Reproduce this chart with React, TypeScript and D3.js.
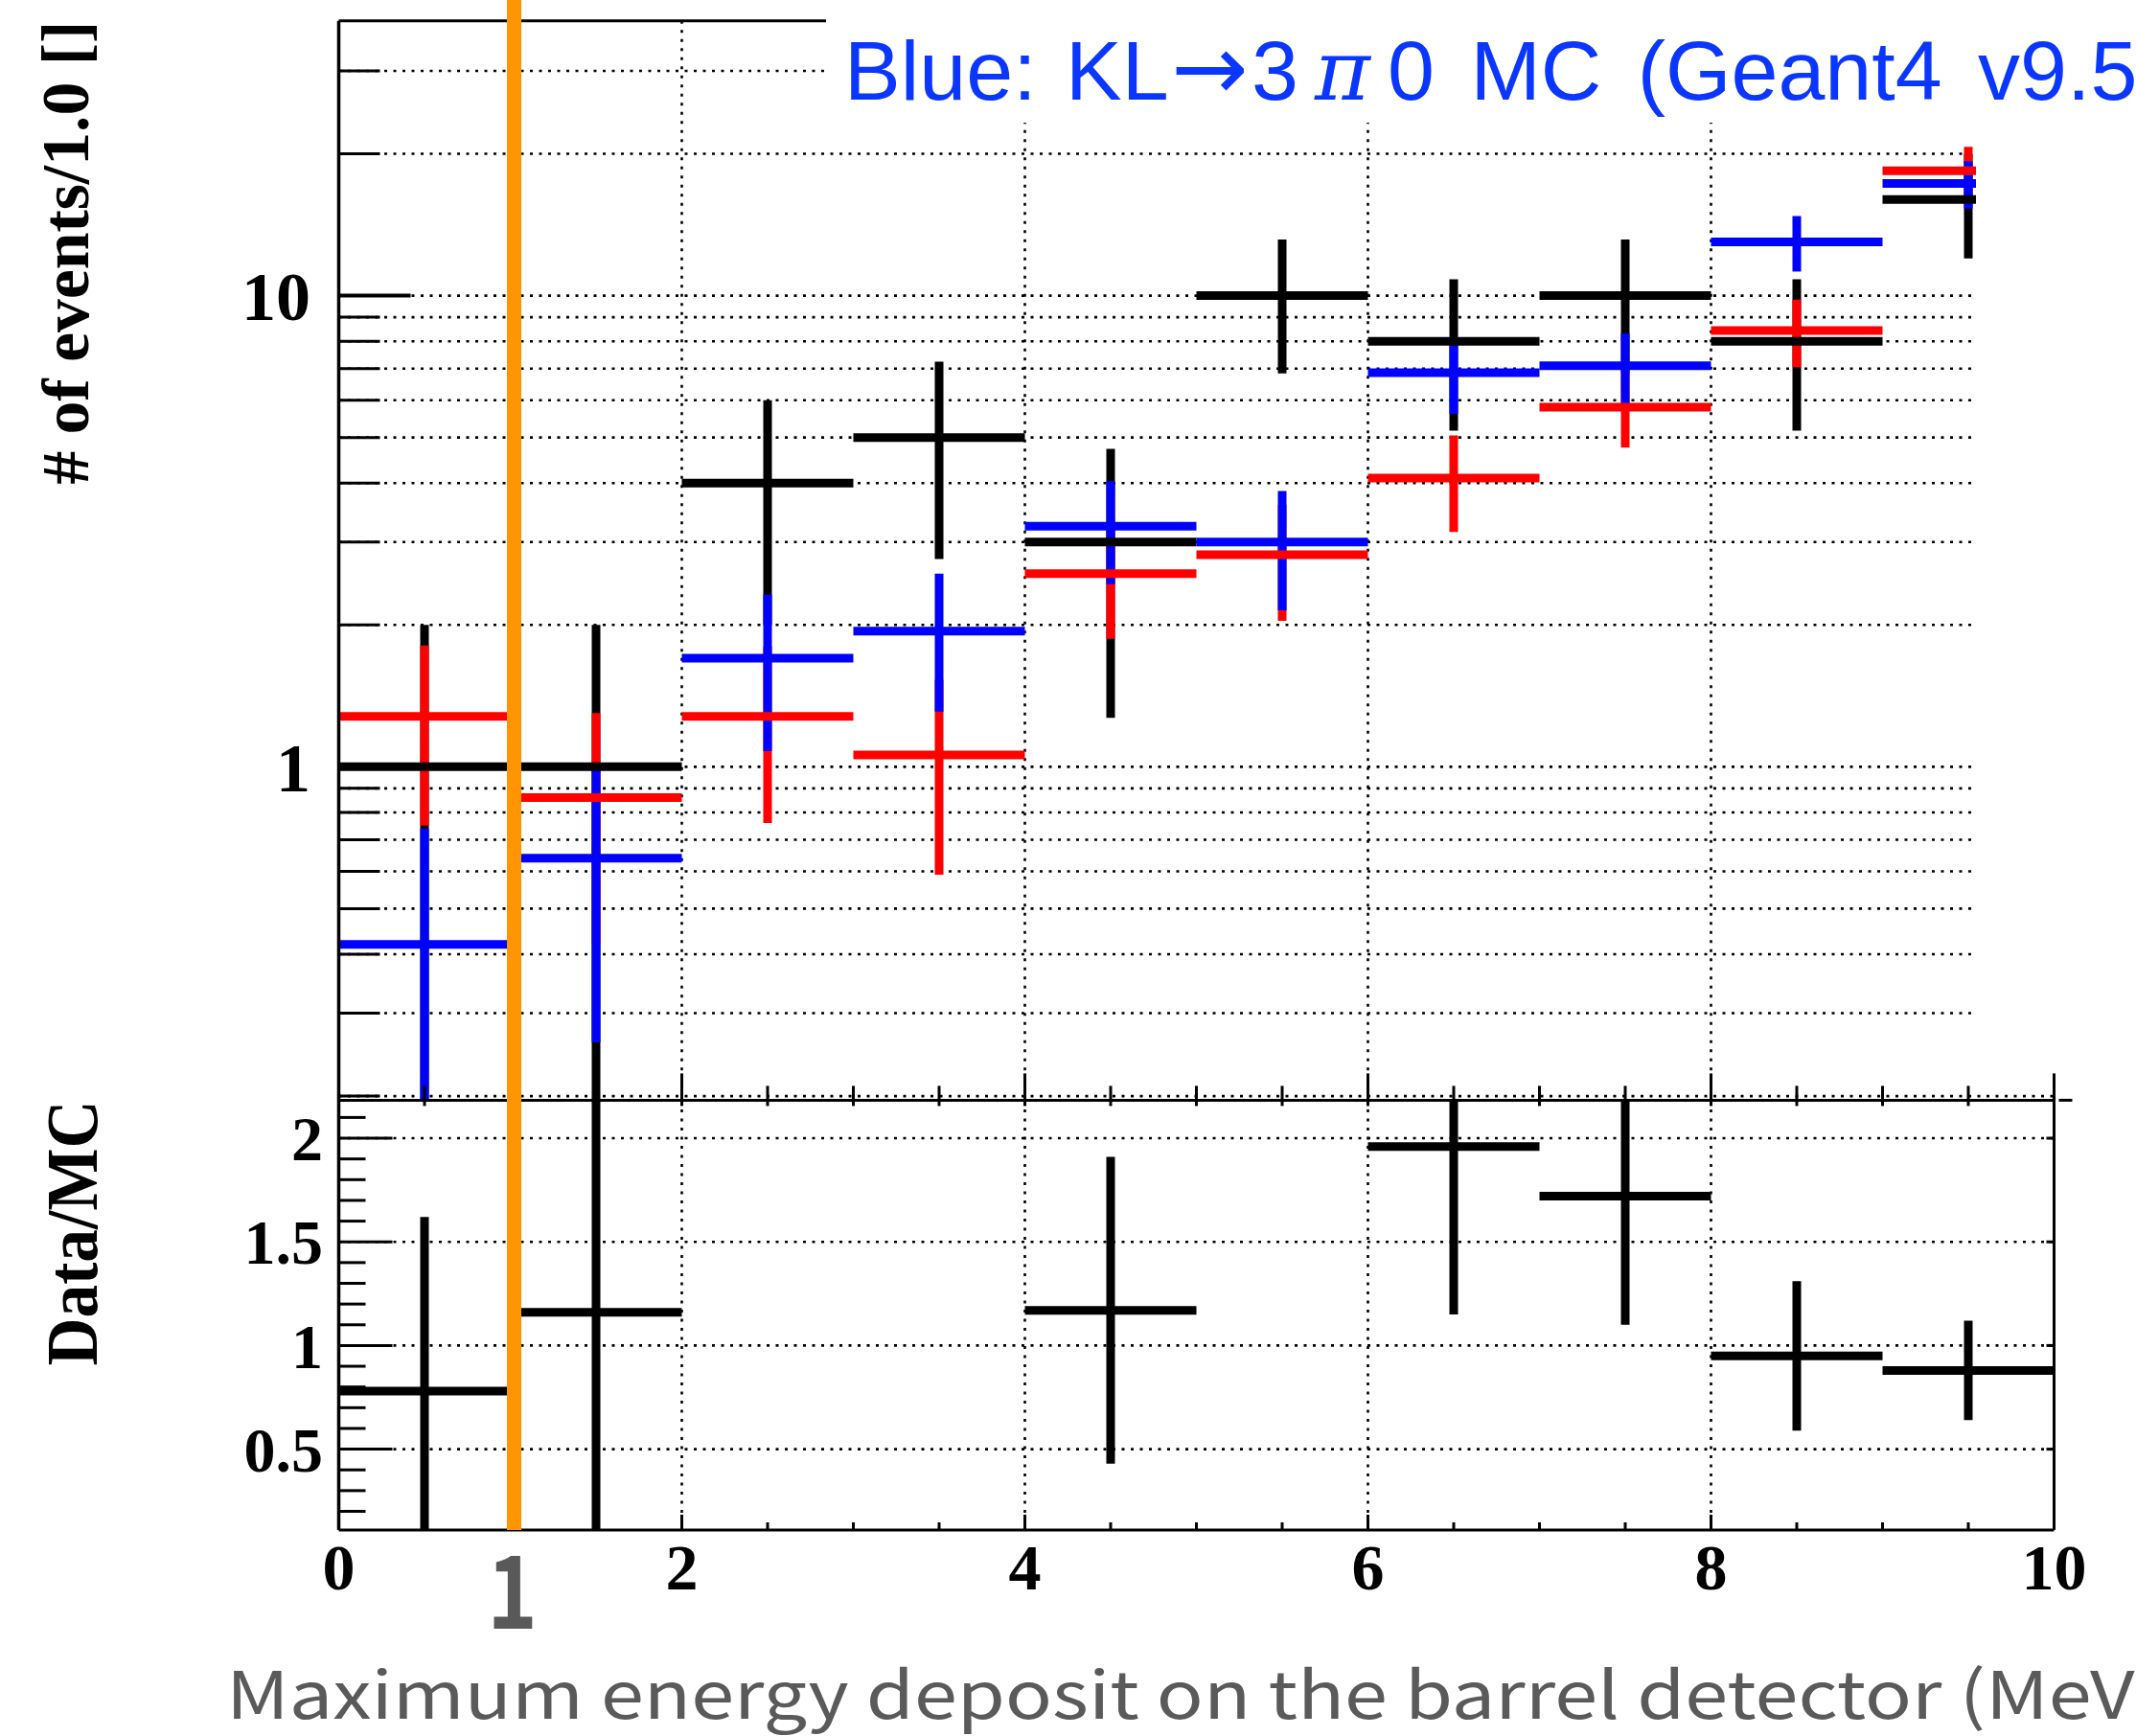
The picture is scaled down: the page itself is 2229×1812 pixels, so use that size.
import * as d3 from "d3"

const W = 2229
const H = 1812

// 1 MeV wide bins, lower edges
const binEdges = [0, 1, 2, 3, 4, 5, 6, 7, 8, 9]
const dataCounts = [1, 1, 4, 5, 3, 10, 8, 10, 8, 16]
const dataErrors = [1, 1, 2, 2.24, 1.73, 3.16, 2.83, 3.16, 2.83, 4]
const redMC = [1.28, 0.86, 1.28, 1.06, 2.57, 2.82, 4.1, 5.8, 8.43, 18.4]
const redErrors = [0.53, 0.44, 0.52, 0.47, 0.7, 0.78, 0.95, 1.04, 1.38, 2.3]
const blueMC = [0.42, 0.64, 1.7, 1.94, 3.24, 3.0, 6.86, 7.1, 13.0, 17.3]
const blueErrors = [0.32, 0.38, 0.62, 0.63, 0.8, 0.85, 1.25, 1.22, 1.75, 2.0]
// ratio points off scale are not drawn (null)
const ratio = [0.78, 1.16, null, null, 1.17, null, 1.96, 1.72, 0.95, 0.88]
const ratioErrors = [0.84, 1.2, null, null, 0.74, null, 0.81, 0.62, 0.36, 0.24]

const xLabels = [0, 2, 4, 6, 8, 10]
const xGrid = [2, 4, 6, 8]
const yTopLabels = [1, 10]
const yBotLabels = [0.5, 1, 1.5, 2]
const cutValue = 1

const xTitle = "Maximum energy deposit on the barrel detector (MeV)"

const serif = "'Liberation Serif', 'Times New Roman', serif"
const sans = "'Liberation Sans', Arial, sans-serif"
const BAR = 9
const gridStyle = { stroke: "#000", strokeWidth: 2.6, strokeDasharray: "3 6.5" }

export default function App() {
  const x = d3.scaleLinear().domain([0, 10]).range([353.5, 2143.5])
  const yTop = d3.scaleLog().domain([0.196, 38.3]).range([1148.4, 21.8])
  const yBot = d3.scaleLinear().domain([0.11, 2.185]).range([1597, 1148])

  const [x0, x1] = x.range()
  const topY0 = yTop.range()[1]
  const padSplit = yTop.range()[0]
  const botY1 = yBot.range()[0]

  const topMinor = yTop.ticks()
  const botMinor = yBot.ticks(20).filter(v => v > 0.15)
  const xMinor = d3.range(0, 10.01, 0.5)

  const ly = (v: number) => yTop(Math.max(v, 1e-3))

  const series = [
    { vals: dataCounts, errs: dataErrors, color: "#000" },
    { vals: redMC, errs: redErrors, color: "#ff0000" },
    { vals: blueMC, errs: blueErrors, color: "#0000ff" },
  ]

  return (
    <svg width={W} height={H} style={{ position: "absolute", left: 0, top: 0, background: "#fff" }}>
      <defs>
        <clipPath id="upClip">
          <rect x={x0} y={topY0} width={x1 - x0} height={padSplit - topY0} />
        </clipPath>
        <clipPath id="loClip">
          <rect x={x0} y={padSplit} width={x1 - x0} height={botY1 - padSplit} />
        </clipPath>
      </defs>
      <rect width={W} height={H} fill="#fff" />

      {/* upper pad grid */}
      <g>
        {topMinor.map(v => (
          <line key={"hg" + v} x1={x0} x2={x1} y1={yTop(v)} y2={yTop(v)} {...gridStyle} />
        ))}
        {xGrid.map(v => (
          <line key={"vg" + v} x1={x(v)} x2={x(v)} y1={topY0} y2={padSplit} {...gridStyle} />
        ))}
        {topMinor.map(v => {
          const major = yTopLabels.includes(v)
          return <line key={"tt" + v} x1={x0} x2={x0 + (major ? 75 : 43)} y1={yTop(v)} y2={yTop(v)} stroke="#000" strokeWidth={major ? 4 : 3} />
        })}
      </g>

      {/* upper pad histograms */}
      <g clipPath="url(#upClip)">
        {series.map((s, si) =>
          s.vals.map((v, i) => (
            <line key={"v" + si + i} x1={x(binEdges[i] + 0.5)} x2={x(binEdges[i] + 0.5)}
              y1={ly(v + s.errs[i])} y2={ly(v - s.errs[i])} stroke={s.color} strokeWidth={BAR} />
          ))
        )}
        {series.map((s, si) =>
          s.vals.map((v, i) => (
            <line key={"h" + si + i} x1={x(binEdges[i])} x2={x(binEdges[i] + 1)}
              y1={ly(v)} y2={ly(v)} stroke={s.color} strokeWidth={BAR} />
          ))
        )}
      </g>

      {/* frame top */}
      <line x1={x0} x2={x1} y1={topY0} y2={topY0} stroke="#000" strokeWidth={3} />

      {/* white boxes of the overlay */}
      <rect x={862} y={0} width={W - 862} height={128} fill="#fff" />
      <rect x={2062} y={0} width={W - 2062} height={1134} fill="#fff" />

      {/* lower pad grid */}
      <g>
        {yBotLabels.map(v => (
          <line key={"bg" + v} x1={x0} x2={x1} y1={yBot(v)} y2={yBot(v)} {...gridStyle} />
        ))}
        {xGrid.map(v => (
          <line key={"bvg" + v} x1={x(v)} x2={x(v)} y1={padSplit} y2={botY1} {...gridStyle} />
        ))}
        {botMinor.map(v => {
          const major = yBotLabels.some(m => Math.abs(m - v) < 1e-6)
          return <line key={"bt" + v} x1={x0} x2={x0 + (major ? 56 : 28)} y1={yBot(v)} y2={yBot(v)} stroke="#000" strokeWidth={3} />
        })}
        {yBotLabels.map(v => (
          <line key={"rt" + v} x1={x1 - 8} x2={x1} y1={yBot(v)} y2={yBot(v)} stroke="#000" strokeWidth={3} />
        ))}
      </g>

      {/* ratio */}
      <g clipPath="url(#loClip)">
        {ratio.map((r, i) => r == null ? null : (
          <g key={"r" + i}>
            <line x1={x(binEdges[i] + 0.5)} x2={x(binEdges[i] + 0.5)}
              y1={yBot(r + (ratioErrors[i] as number))} y2={yBot(r - (ratioErrors[i] as number))} stroke="#000" strokeWidth={BAR} />
            <line x1={x(binEdges[i])} x2={x(binEdges[i] + 1)} y1={yBot(r)} y2={yBot(r)} stroke="#000" strokeWidth={BAR} />
          </g>
        ))}
      </g>

      {/* axes */}
      <line x1={x0} x2={x0} y1={topY0} y2={botY1} stroke="#000" strokeWidth={3.5} />
      <line x1={x0} x2={x1} y1={padSplit} y2={padSplit} stroke="#000" strokeWidth={3} />
      <line x1={x1 + 5} x2={x1 + 19} y1={padSplit} y2={padSplit} stroke="#000" strokeWidth={3} />
      <line x1={x0} x2={x1} y1={botY1} y2={botY1} stroke="#000" strokeWidth={3} />
      <line x1={x1} x2={x1} y1={padSplit - 11} y2={botY1} stroke="#000" strokeWidth={3} />
      {xMinor.map(v => {
        const major = v % 2 === 0
        return (
          <g key={"xt" + v}>
            <line x1={x(v)} x2={x(v)} y1={padSplit - (major ? 28 : 15)} y2={padSplit + 6} stroke="#000" strokeWidth={3} />
            <line x1={x(v)} x2={x(v)} y1={botY1 - (major ? 16 : 8)} y2={botY1} stroke="#000" strokeWidth={3} />
          </g>
        )
      })}

      {/* tick labels */}
      <g fontFamily={serif} fontWeight="bold" fill="#000">
        {yTopLabels.map(v => (
          <text key={"yl" + v} x={324} y={yTop(v)} dy="0.35em" fontSize={72} textAnchor="end">{v}</text>
        ))}
        {yBotLabels.map(v => (
          <text key={"bl" + v} x={337} y={yBot(v)} dy="0.35em" fontSize={66} textAnchor="end">{v}</text>
        ))}
        {xLabels.map(v => (
          <text key={"xl" + v} x={x(v)} y={1659} fontSize={68} textAnchor="middle">{v}</text>
        ))}
        <text transform={`translate(92,${topY0}) rotate(-90)`} fontSize={70} textAnchor="end"
          textLength={484} lengthAdjust="spacingAndGlyphs"># of events/1.0 []</text>
        <text transform={`translate(101,${padSplit}) rotate(-90)`} fontSize={76} textAnchor="end"
          textLength={277} lengthAdjust="spacingAndGlyphs">Data/MC</text>
      </g>

      {/* cut line annotation */}
      <line x1={x(cutValue) + 4} x2={x(cutValue) + 4} y1={0} y2={botY1} stroke="#ff9500" strokeWidth={15} />
      <text x={x(cutValue) + 2} y={1700} fontSize={105} fontWeight="bold" textAnchor="middle"
        fontFamily="'Noto Sans CJK JP', 'Noto Sans', sans-serif" fill="#595959"
        transform={`translate(${x(cutValue) + 2},1700) scale(0.85,1) translate(${-(x(cutValue) + 2)},-1700)`}>{cutValue}</text>

      {/* overlay text */}
      <g fill="#0a36ff" fontSize={88} fontFamily={sans}>
        <text x={881} y={104} wordSpacing={6}>Blue: KL</text>
        <text x={1222} y={104} fontSize={96} fontFamily="'DejaVu Sans', sans-serif">{"\u2192"}</text>
        <text x={1306} y={104}>3</text>
        <text x={1372} y={104} fontStyle="italic" fontFamily="'DejaVu Serif', serif">π</text>
        <text x={1448} y={104} wordSpacing={13}>0 MC (Geant4 v9.5)</text>
      </g>
      <text x={236} y={1794} fontSize={68} fill="#5a5a5a" textLength={2019} lengthAdjust="spacingAndGlyphs"
        fontFamily="'Noto Sans CJK JP', 'Noto Sans', sans-serif">{xTitle}</text>
    </svg>
  )
}
